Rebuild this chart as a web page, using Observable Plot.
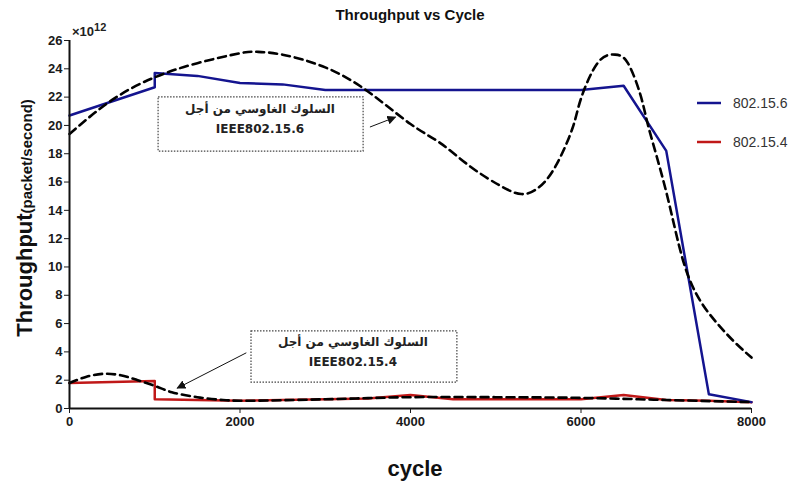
<!DOCTYPE html>
<html>
<head>
<meta charset="utf-8">
<script src="https://cdn.jsdelivr.net/npm/d3@7"></script>
<script src="https://cdn.jsdelivr.net/npm/@observablehq/plot@0.6"></script>
<style>
  html, body { margin: 0; padding: 0; background: #fff; }
  #chart { width: 799px; height: 482px; }
</style>
</head>
<body>
<div id="chart"></div>
<script>
// ---- data ----
const cycles156 = [0, 1000, 1000, 1500, 2000, 2500, 3000, 4000, 5000, 6000, 6500, 7000, 7500, 8000];
const thr156    = [20.7, 22.7, 23.7, 23.5, 23.0, 22.9, 22.5, 22.5, 22.5, 22.5, 22.8, 18.2, 1.0, 0.45];

const cycles154 = [0, 1000, 1000, 2000, 3000, 3500, 4000, 4500, 5000, 6000, 6500, 7000, 7500, 8000];
const thr154    = [1.8, 1.95, 0.65, 0.55, 0.65, 0.7, 0.95, 0.65, 0.65, 0.65, 0.95, 0.6, 0.55, 0.45];

const fitCycles156 = [0, 500, 1000, 1500, 2000, 2200, 2500, 3000, 3500, 4000, 4350, 4700, 5050, 5300, 5500, 5700, 5900, 6000, 6200, 6400, 6550, 6700, 6800, 7000, 7200, 7400, 7600, 7800, 8000];
const fit156       = [19.4, 21.8, 23.4, 24.4, 25.1, 25.2, 25.0, 24.1, 22.4, 20.1, 18.75, 17.1, 15.75, 15.15, 15.6, 17.1, 19.8, 21.9, 24.45, 25.0, 24.4, 22.1, 19.7, 15.3, 10.4, 7.6, 6.0, 4.7, 3.6];

const fitCycles154 = [0, 200, 400, 600, 800, 1000, 1200, 1500, 1800, 2000, 3000, 4000, 5000, 6000, 7000, 8000];
const fit154       = [1.8, 2.25, 2.45, 2.35, 2.0, 1.6, 1.15, 0.8, 0.6, 0.55, 0.65, 0.8, 0.8, 0.75, 0.6, 0.45];

const xTicks = [0, 2000, 4000, 6000, 8000];
const yTicks = [0, 2, 4, 6, 8, 10, 12, 14, 16, 18, 20, 22, 24, 26];

const seriesNames = ["802.15.6", "802.15.4"];
const seriesColors = ["#14148f", "#c01818"];

const titleText = "Throughput vs Cycle";
const xLabel = "cycle";
const yLabelMain = "Throughput";
const yLabelUnit = "(packet/second)";
const annLine1 = "السلوك الغاوسي من أجل";
const annLabels = ["IEEE802.15.6", "IEEE802.15.4"];

const zip = (xs, ys) => xs.map((x, i) => ({x, y: ys[i]}));
const d156 = zip(cycles156, thr156);
const d154 = zip(cycles154, thr154);
const f156 = zip(fitCycles156, fit156);
const f154 = zip(fitCycles154, fit154);

const FONT = "'Liberation Sans', Arial, sans-serif";

const plot = Plot.plot({
  width: 799,
  height: 482,
  marginLeft: 69,
  marginRight: 48,
  marginTop: 40,
  marginBottom: 74,
  style: {fontFamily: FONT, fontSize: "13px", fontWeight: "bold", color: "#1a1a1a", background: "#fff"},
  x: {domain: [0, 8000], label: null},
  y: {domain: [0, 26], label: null},
  marks: [
    Plot.axisX({ticks: xTicks, tickFormat: d3.format("d"), tickSize: 5, tickPadding: 3, label: null, fontSize: 13, fontWeight: "bold"}),
    Plot.axisY({ticks: yTicks, tickSize: 5, tickPadding: 2, label: null, fontSize: 13, fontWeight: "bold"}),
    Plot.line(d154, {x: "x", y: "y", stroke: seriesColors[1], strokeWidth: 2.5}),
    Plot.line(d156, {x: "x", y: "y", stroke: seriesColors[0], strokeWidth: 2.5}),
    Plot.line(f154, {x: "x", y: "y", stroke: "#000", strokeWidth: 2.6, strokeDasharray: "8,5", curve: "catmull-rom"}),
    Plot.line(f156, {x: "x", y: "y", stroke: "#000", strokeWidth: 2.6, strokeDasharray: "8,5", curve: "natural"}),
    Plot.ruleX([0], {stroke: "#111", strokeWidth: 2}),
    Plot.ruleY([0], {stroke: "#111", strokeWidth: 2})
  ]
});
document.getElementById("chart").appendChild(plot);

const svg = d3.select(plot);
const sx = plot.scale("x"), sy = plot.scale("y");
const X = v => sx.apply(v), Y = v => sy.apply(v);

// arrow marker
const defs = svg.append("defs");
defs.append("marker").attr("id", "ah").attr("viewBox", "0 0 10 10").attr("refX", 9).attr("refY", 5)
  .attr("markerWidth", 9).attr("markerHeight", 9).attr("markerUnits", "userSpaceOnUse").attr("orient", "auto")
  .append("path").attr("d", "M0,0 L10,5 L0,10 z").attr("fill", "#111");

// title
svg.append("text").attr("x", 410).attr("y", 20).attr("text-anchor", "middle")
  .attr("font-family", FONT).attr("font-weight", "bold").attr("font-size", 15).attr("fill", "#111")
  .text(titleText);

// x10^12
const mult = svg.append("text").attr("x", 72).attr("y", 36).attr("text-anchor", "start")
  .attr("font-family", FONT).attr("font-weight", "bold").attr("font-size", 13).attr("fill", "#222");
mult.append("tspan").text("×10");
mult.append("tspan").attr("dy", -5).attr("font-size", 11).text("12");

// x label
svg.append("text").attr("x", 415).attr("y", 476).attr("text-anchor", "middle")
  .attr("font-family", FONT).attr("font-weight", "bold").attr("font-size", 22).attr("fill", "#111")
  .text(xLabel);

// y label
const yl = svg.append("text").attr("transform", "translate(32,218) rotate(-90)").attr("text-anchor", "middle")
  .attr("font-family", FONT).attr("font-weight", "bold").attr("fill", "#111");
yl.append("tspan").attr("font-size", 22).text(yLabelMain);
yl.append("tspan").attr("font-size", 15).text(yLabelUnit);

// legend
const legY = [103, 142];
seriesNames.forEach((n, i) => {
  svg.append("line").attr("x1", 697).attr("x2", 721).attr("y1", legY[i]).attr("y2", legY[i])
    .attr("stroke", seriesColors[i]).attr("stroke-width", 2.5);
  svg.append("text").attr("x", 733).attr("y", legY[i] + 5).attr("text-anchor", "start")
    .attr("font-family", FONT).attr("font-weight", "normal").attr("font-size", 14).attr("fill", "#333").text(n);
});

// annotations (data-unit positions)
const boxes = [
  {x1: 1045, x2: 3450, y1: 21.98, y2: 18.15, tx: 2240, ty1: 20.85, ty2: 19.45, ax1: 3530, ay1: 19.85, ax2: 3830, ay2: 20.55},
  {x1: 2135, x2: 4550, y1: 5.45, y2: 1.83, tx: 3330, ty1: 4.35, ty2: 3.0, ax1: 2080, ay1: 3.9, ax2: 1270, ay2: 1.4}
];
boxes.forEach((b, i) => {
  svg.append("rect").attr("x", X(b.x1)).attr("y", Y(b.y1)).attr("width", X(b.x2) - X(b.x1)).attr("height", Y(b.y2) - Y(b.y1))
    .attr("fill", "#fff").attr("stroke", "#444").attr("stroke-width", 1.2).attr("stroke-dasharray", "1.5,1.5");
  svg.append("text").attr("x", X(b.tx)).attr("y", Y(b.ty1)).attr("text-anchor", "middle").attr("direction", "rtl")
    .attr("font-family", "'DejaVu Sans', sans-serif").attr("font-weight", "bold").attr("font-size", 12).attr("fill", "#222")
    .text(annLine1);
  svg.append("text").attr("x", X(b.tx)).attr("y", Y(b.ty2)).attr("text-anchor", "middle")
    .attr("font-family", "'DejaVu Sans', sans-serif").attr("font-weight", "bold").attr("font-size", 12).attr("fill", "#222")
    .text(annLabels[i]);
  svg.append("line").attr("x1", X(b.ax1)).attr("y1", Y(b.ay1)).attr("x2", X(b.ax2)).attr("y2", Y(b.ay2))
    .attr("stroke", "#111").attr("stroke-width", 1).attr("marker-end", "url(#ah)");
});
</script>
</body>
</html>
